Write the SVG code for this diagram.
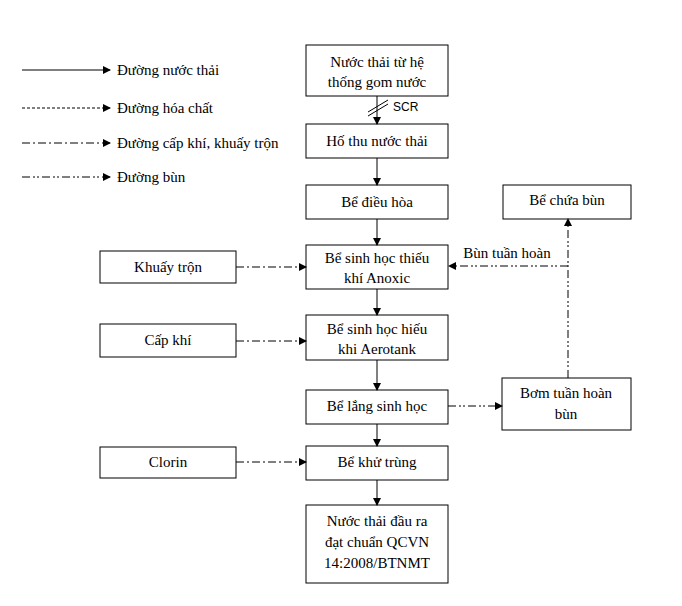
<svg xmlns="http://www.w3.org/2000/svg" width="682" height="606" viewBox="0 0 682 606">
<defs>
<marker id="ah" markerWidth="8" markerHeight="8" refX="7" refY="4" orient="auto" markerUnits="userSpaceOnUse"><path d="M0,0 L8,4 L0,8 Z" fill="#000"/></marker>
<style>
rect{fill:#fff;stroke:#000;stroke-width:1}
text{font-family:"Liberation Serif",serif;font-size:15px;fill:#000;text-anchor:middle}
.l{text-anchor:start}
line,path.c{stroke:#000;stroke-width:1;fill:none}
.a{marker-end:url(#ah)}
.d{stroke-dasharray:3,2}
.dd{stroke-dasharray:8,3,2,3}
.ddd{stroke-dasharray:8,3,2,2,2,3}
</style>
</defs>
<rect width="682" height="606" style="stroke:none"/>
<g id="legend">
<line x1="22" y1="70" x2="110" y2="70" class="a"/><text x="117" y="75" class="l">Đường nước thải</text>
<line x1="22" y1="108" x2="110" y2="108" class="a d"/><text x="117" y="113" class="l">Đường hóa chất</text>
<line x1="22" y1="143" x2="110" y2="143" class="a dd"/><text x="117" y="148" class="l">Đường cấp khí, khuấy trộn</text>
<line x1="22" y1="177" x2="110" y2="177" class="a ddd"/><text x="117" y="182" class="l">Đường bùn</text>
</g>
<g id="n1"><rect x="306" y="45" width="142" height="51"/><text x="377" y="67">Nước thải từ hệ</text><text x="377" y="87">thống gom nước</text></g>
<g id="n2"><rect x="306" y="124" width="142" height="34"/><text x="377" y="146">Hố thu nước thải</text></g>
<g id="n3"><rect x="306" y="185" width="142" height="34"/><text x="377" y="207">Bể điều hòa</text></g>
<g id="n4"><rect x="306" y="245" width="142" height="44"/><text x="377" y="263">Bể sinh học thiếu</text><text x="377" y="283">khí Anoxic</text></g>
<g id="n5"><rect x="306" y="315" width="142" height="45"/><text x="377" y="334">Bể sinh học hiếu</text><text x="377" y="354">khi Aerotank</text></g>
<g id="n6"><rect x="306" y="390" width="142" height="34"/><text x="377" y="411">Bể lắng sinh học</text></g>
<g id="n7"><rect x="306" y="446" width="142" height="34"/><text x="377" y="467">Bể khử trùng</text></g>
<g id="n8"><rect x="306" y="505" width="142" height="78"/><text x="377" y="526">Nước thải đầu ra</text><text x="377" y="547">đạt chuẩn QCVN</text><text x="377" y="568">14:2008/BTNMT</text></g>
<g id="k1"><rect x="100" y="251" width="136" height="32"/><text x="168" y="272">Khuấy trộn</text></g>
<g id="k2"><rect x="100" y="324" width="136" height="33"/><text x="168" y="345">Cấp khí</text></g>
<g id="k3"><rect x="100" y="447" width="136" height="31"/><text x="168" y="467">Clorin</text></g>
<g id="r1"><rect x="503" y="185" width="128" height="34"/><text x="567" y="205">Bể chứa bùn</text></g>
<g id="r2"><rect x="502" y="378" width="129" height="52"/><text x="566" y="398">Bơm tuần hoàn</text><text x="566" y="419">bùn</text></g>
<g id="connectors">
<line x1="377" y1="96" x2="377" y2="124" class="a"/>
<line x1="368" y1="112" x2="388" y2="100"/><line x1="368" y1="116" x2="388" y2="104"/>
<text x="393" y="111" class="l" style="font-family:'Liberation Sans',sans-serif;font-size:12px">SCR</text>
<line x1="377" y1="158" x2="377" y2="185" class="a"/>
<line x1="377" y1="219" x2="377" y2="245" class="a"/>
<line x1="377" y1="289" x2="377" y2="315" class="a"/>
<line x1="377" y1="360" x2="377" y2="390" class="a"/>
<line x1="377" y1="424" x2="377" y2="446" class="a"/>
<line x1="377" y1="480" x2="377" y2="505" class="a"/>
<line x1="236" y1="267" x2="306" y2="267" class="a dd"/>
<line x1="236" y1="341" x2="306" y2="341" class="a dd"/>
<line x1="236" y1="462" x2="306" y2="462" class="a dd"/>
<line x1="448" y1="406" x2="502" y2="406" class="a ddd"/>
<line x1="568" y1="378" x2="568" y2="219" class="a ddd"/>
<line x1="568" y1="266" x2="449" y2="266" class="a ddd"/>
<text x="507" y="258">Bùn tuần hoàn</text>
</g>
</svg>
